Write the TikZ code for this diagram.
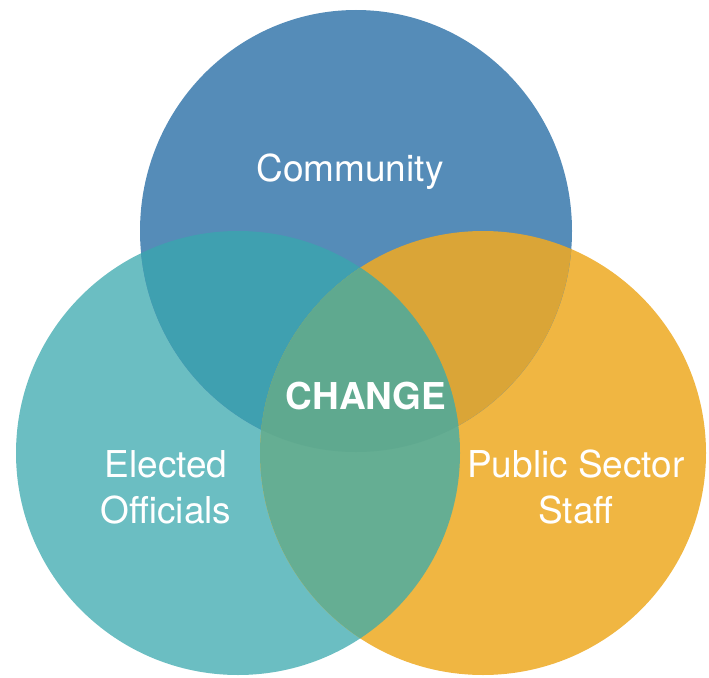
\documentclass[tikz,border=0pt]{standalone}
\usepackage{fontspec}
\setmainfont{TeX Gyre Heros}
\definecolor{commblue}{HTML}{558CB8}
\definecolor{electeal}{HTML}{6BBEC2}
\definecolor{staffgold}{HTML}{F0B642}
\definecolor{ctmix}{HTML}{3FA0B0}
\definecolor{csmix}{HTML}{DAA537}
\definecolor{esmix}{HTML}{65AE93}
\definecolor{allmix}{HTML}{5FA98F}
\begin{document}
\begin{tikzpicture}[x=1pt,y=-1pt,
    lbl/.style={text=white, inner sep=0pt, anchor=base, align=center, font=\fontsize{37}{46}\selectfont}]
      \useasboundingbox (0,0) rectangle (709,677);
      \def\topc{(356,231) ellipse [x radius=216pt, y radius=221pt]}
      \def\leftc{(238,453) ellipse [x radius=222pt, y radius=222pt]}
      \def\rightc{(483,453) ellipse [x radius=223pt, y radius=222pt]}
      \fill[electeal] \leftc;
      \fill[staffgold] \rightc;
      \fill[commblue] \topc;
      \begin{scope} \clip \topc; \fill[ctmix] \leftc; \fill[csmix] \rightc; \end{scope}
      \begin{scope} \clip \leftc; \fill[esmix] \rightc; \end{scope}
      \begin{scope} \clip \topc; \clip \leftc; \fill[allmix] \rightc; \end{scope}
      \node[lbl] (comm) at (350,181) {Community};
      \node[lbl, font=\fontsize{37}{46}\selectfont\bfseries] (change) at (366,409) {CHANGE};
      \node[lbl] (elected) at (166,523) {Elected\\Officials};
      \node[lbl] (staff) at (576,523) {Public Sector\\Staff};
    \end{tikzpicture}
\end{document}
